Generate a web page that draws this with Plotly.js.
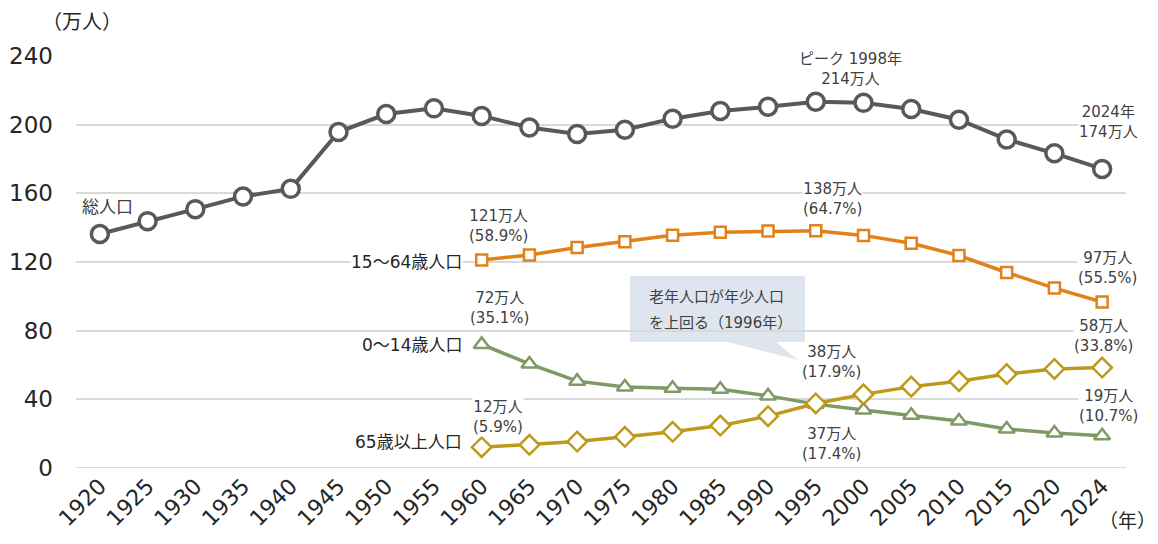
<!DOCTYPE html>
<html>
<head>
<meta charset="utf-8">
<script src="https://cdn.plot.ly/plotly-3.0.1.min.js"></script>
<style>
  html, body { margin: 0; padding: 0; background: #ffffff; }
  #chart { width: 1158px; height: 544px; }
</style>
</head>
<body>
<div id="chart"></div>
<script>
// ---- data (万人) ----
const years = ['1920','1925','1930','1935','1940','1945','1950','1955','1960','1965','1970',
               '1975','1980','1985','1990','1995','2000','2005','2010','2015','2020','2024'];
const total = [136.3, 143.8, 150.8, 158.2, 162.6, 195.7, 206.2, 209.5, 205.1, 198.4, 194.6,
               197.1, 203.5, 208.0, 210.4, 213.4, 212.7, 209.1, 202.9, 191.4, 183.3, 174.2];
const working = [null, null, null, null, null, null, null, null, 121.1, 124.1, 128.5,
                 131.8, 135.6, 137.3, 138.0, 138.2, 135.5, 130.9, 123.8, 113.9, 104.8, 96.7];
const young = [null, null, null, null, null, null, null, null, 72.0, 60.6, 50.6,
               47.2, 46.4, 45.9, 42.0, 37.2, 33.8, 30.7, 27.4, 22.7, 20.4, 18.8];
const elderly = [null, null, null, null, null, null, null, null, 12.1, 13.5, 15.4,
                 18.2, 21.1, 24.7, 30.2, 37.6, 42.9, 47.4, 50.6, 54.7, 57.7, 58.5];
const yTicks = [0, 40, 80, 120, 160, 200, 240];

// ---- layout helpers (pixel -> paper) ----
const W = 1158, H = 544;
const L = 76, R = 1126, T = 56, B = 468;
const px = x => (x - L) / (R - L);
const py = y => (B - y) / (B - T);

const JP = 'DejaVu Sans, Noto Sans CJK JP, sans-serif';
const txtCol = '#404040';

function ann(x, y, text, opt) {
  return Object.assign({
    xref: 'paper', yref: 'paper', x: px(x), y: py(y), text: text,
    showarrow: false, xanchor: 'center', yanchor: 'middle',
    font: {family: JP, size: 15, color: txtCol},
    bgcolor: 'rgba(255,255,255,1)', borderpad: 0
  }, opt || {});
}

const traces = [
  {x: years, y: total, type: 'scatter', mode: 'lines+markers', name: '総人口',
   line: {color: '#595959', width: 4},
   marker: {symbol: 'circle', size: 17, color: '#ffffff', line: {color: '#595959', width: 3.5}}},
  {x: years, y: working, type: 'scatter', mode: 'lines+markers', name: '15～64歳人口',
   line: {color: '#E2801A', width: 3.5},
   marker: {symbol: 'square', size: 11, color: '#ffffff', line: {color: '#E2801A', width: 2.5}}},
  {x: years, y: young, type: 'scatter', mode: 'lines+markers', name: '0～14歳人口',
   line: {color: '#7F9A65', width: 3.5},
   marker: {symbol: 'triangle-up', size: 14, color: '#ffffff', line: {color: '#7F9A65', width: 2.5}}},
  {x: years, y: elderly, type: 'scatter', mode: 'lines+markers', name: '65歳以上人口',
   line: {color: '#BF9A1A', width: 3.5},
   marker: {symbol: 'diamond', size: 15, color: '#ffffff', line: {color: '#BF9A1A', width: 2.5}}}
];

const callout = 'M' + px(630) + ',' + py(276) + ' L' + px(805) + ',' + py(276) +
  ' L' + px(805) + ',' + py(342) + ' L' + px(776) + ',' + py(342) +
  ' L' + px(798) + ',' + py(360) + ' L' + px(728) + ',' + py(342) +
  ' L' + px(630) + ',' + py(342) + ' Z';

const layout = {
  width: W, height: H,
  margin: {l: L, r: W - R, t: T, b: H - B},
  paper_bgcolor: '#ffffff', plot_bgcolor: '#ffffff',
  showlegend: false,
  font: {family: JP, color: '#262626'},
  xaxis: {
    type: 'category', range: [-0.5, years.length - 0.5],
    tickangle: -45, tickfont: {family: JP, size: 22, color: '#262626'},
    showgrid: false, zeroline: false, showline: false, ticks: '',
    fixedrange: true
  },
  yaxis: {
    range: [0, 240], tickvals: yTicks, ticktext: yTicks.map(String),
    tickfont: {family: JP, size: 23, color: '#262626'},
    showgrid: true, gridcolor: '#d9d9d9', gridwidth: 2,
    zeroline: false, showline: false, ticks: '', ticklabelstandoff: 22,
    fixedrange: true
  },
  shapes: [
    {type: 'line', xref: 'paper', yref: 'y', x0: 0, x1: 1, y0: 0, y1: 0,
     line: {color: '#d9d9d9', width: 2}, layer: 'below'},
    {type: 'path', xref: 'paper', yref: 'paper', path: callout,
     fillcolor: '#dfe5ee', line: {width: 0}, layer: 'below'}
  ],
  annotations: [
    ann(82, 22, '（万人）', {font: {family: JP, size: 20, color: '#262626'}, bgcolor: 'rgba(0,0,0,0)'}),
    ann(1157, 521, '（年）', {xanchor: 'right', font: {family: JP, size: 19, color: '#262626'}, bgcolor: 'rgba(0,0,0,0)'}),
    ann(107, 207, '総人口', {font: {family: JP, size: 17, color: txtCol}}),
    ann(850, 69, 'ピーク 1998年<br>214万人'),
    ann(1108, 122, '2024年<br>174万人'),
    ann(832, 199, '138万人<br>(64.7%)'),
    ann(498, 226, '121万人<br>(58.9%)'),
    ann(463, 262, '15～64歳人口', {xanchor: 'right', font: {family: JP, size: 17, color: '#262626'}}),
    ann(1107, 268, '97万人<br>(55.5%)'),
    ann(499, 308, '72万人<br>(35.1%)'),
    ann(463, 345, '0～14歳人口', {xanchor: 'right', font: {family: JP, size: 17, color: '#262626'}}),
    ann(648, 297, '老年人口が年少人口', {xanchor: 'left', bgcolor: 'rgba(0,0,0,0)'}),
    ann(648, 323, 'を上回る（1996年）', {xanchor: 'left', bgcolor: 'rgba(0,0,0,0)'}),
    ann(831, 362, '38万人<br>(17.9%)'),
    ann(1103, 336, '58万人<br>(33.8%)'),
    ann(1108, 406, '19万人<br>(10.7%)'),
    ann(498, 417, '12万人<br>(5.9%)'),
    ann(463, 442, '65歳以上人口', {xanchor: 'right', font: {family: JP, size: 17, color: '#262626'}}),
    ann(831, 444, '37万人<br>(17.4%)')
  ]
};

Plotly.newPlot('chart', traces, layout, {displayModeBar: false, staticPlot: true});
</script>
</body>
</html>
